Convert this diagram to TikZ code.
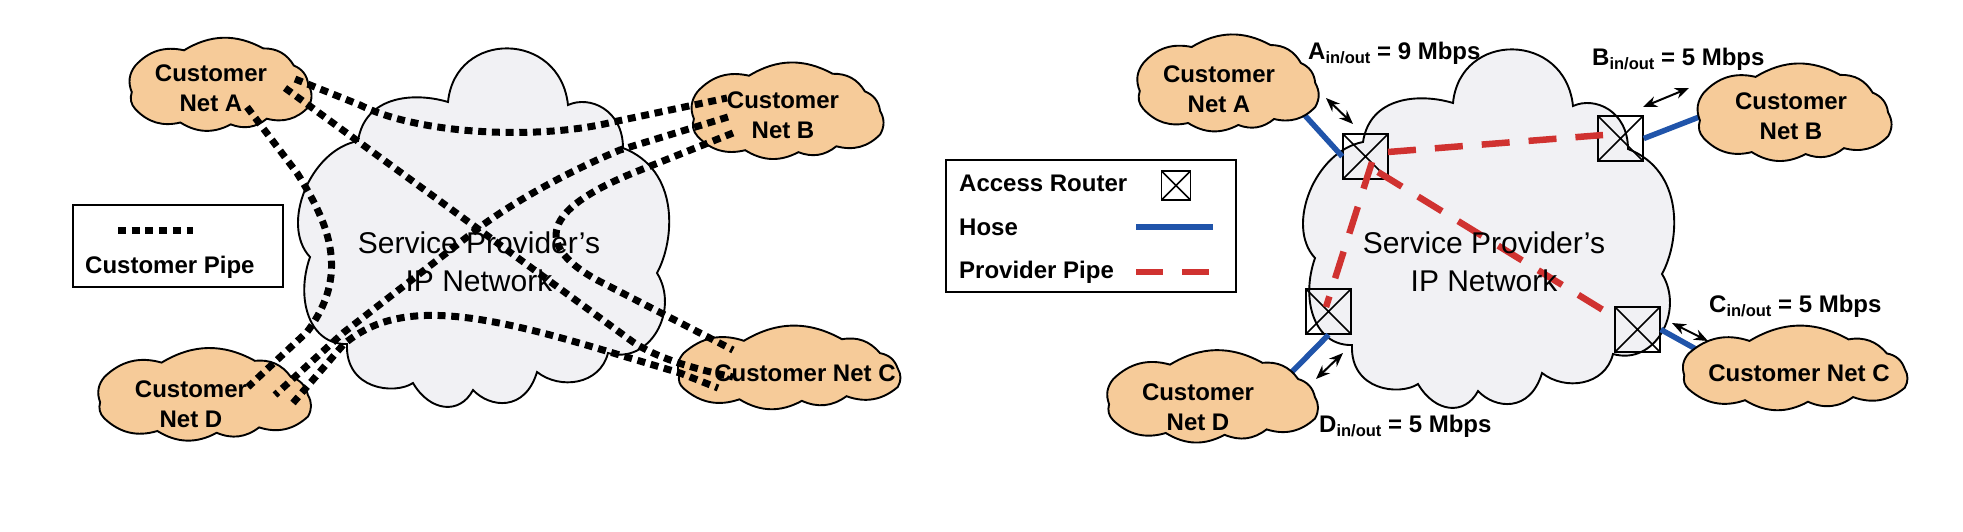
\documentclass[tikz,border=0pt]{standalone}
\usepackage{fontspec}
\setmainfont{Liberation Sans}
\usetikzlibrary{arrows.meta}
\definecolor{netfill}{RGB}{246,203,153}
\definecolor{corefill}{RGB}{241,241,244}
\definecolor{hoseblue}{RGB}{32,84,170}
\definecolor{pipered}{RGB}{208,50,48}
\newcommand{\boldlabel}{\fontsize{24}{29.5}\selectfont\bfseries}
\newcommand{\rate}[3]{\fontsize{24}{28}\selectfont\bfseries #1\raisebox{-4.5pt}{\fontsize{16.5}{18}\selectfont #2} = #3 Mbps}
% Large provider cloud, outlined from notch to notch
\newcommand{\corecloud}{%
  (448,102) .. controls (415,92) and (365,95) .. (358,141)
  .. controls (310,150) and (280,225) .. (310,257)
  .. controls (295,300) and (310,345) .. (347,344)
  .. controls (345,390) and (395,395) .. (413,383)
  .. controls (430,412) and (460,415) .. (473,390)
  .. controls (490,408) and (525,412) .. (537,372)
  .. controls (560,390) and (600,385) .. (608,353)
  .. controls (650,365) and (680,310) .. (657,273)
  .. controls (675,240) and (680,170) .. (623,148)
  .. controls (623,110) and (590,95) .. (568,105)
  .. controls (560,30) and (455,30) .. (448,102) -- cycle}
% Small customer cloud inside the box x,y,w,h
\newcommand{\netcloud}[4]{%
  \begin{scope}[shift={(#1,#2)},x=#3pt/100,y=-#4pt/100]
    \draw[netedge] (3,30) to (30,14) to (74,12) to (91,30) to (99,50)
      to (99,74) to (76,86) to (56,92) to (28,90) to (3,76)
      to (1,58) to (3,30) -- cycle;
  \end{scope}}
\tikzset{
  cloudedge/.style={draw=black,fill=corefill,line width=1.9pt},
  netedge/.style={draw=black,fill=netfill,line width=1.9pt,bend left=30},
  nettext/.style={font=\boldlabel,align=center,inner sep=0pt},
  coretext/.style={font=\fontsize{30}{38}\selectfont,align=center,inner sep=0pt},
  legendbox/.style={draw=black,line width=1.5pt,fill=white},
  legendtext/.style={font=\boldlabel,anchor=west,inner sep=0pt},
  ratetext/.style={anchor=base west,inner sep=0pt},
  custpipe/.style={draw=black,line width=7pt,dash pattern=on 8pt off 5.7pt},
  provpipe/.style={draw=pipered,line width=6.5pt,dash pattern=on 28pt off 19pt},
  hose/.style={draw=hoseblue,line width=5.5pt},
  rate arrow/.style={draw=black,line width=2pt,{Stealth[length=14pt,width=11pt]}-{Stealth[length=14pt,width=11pt]}},
  router/.style={draw=black,line width=1.5pt,minimum size=45pt,inner sep=0pt,
    path picture={\draw[line width=1.5pt]
      (path picture bounding box.north west) -- (path picture bounding box.south east)
      (path picture bounding box.north east) -- (path picture bounding box.south west);}},
}
\begin{document}
\begin{tikzpicture}[x=1pt,y=-1pt]
\useasboundingbox (0,0) rectangle (1963,531);

% ---- Customer pipes: full mesh over the provider network
\draw[cloudedge] \corecloud;
\netcloud{130}{37}{180}{95}
\netcloud{692}{62}{190}{98}
\netcloud{677}{330}{223}{77}
\netcloud{98}{350}{212}{90}

\node[coretext] (coreL) at (479,262) {Service Provider's\\IP Network};
\node[nettext] (custAL) at (211,88) {Customer\\Net A};
\node[nettext] (custBL) at (783,115) {Customer\\Net B};
\node[nettext] (custCL) at (805,373) {Customer Net C};
\node[nettext] (custDL) at (191,404) {Customer\\Net D};

\coordinate (a1) at (295,79);  \coordinate (a2) at (285,88);  \coordinate (a3) at (247,107);
\coordinate (b1) at (727,98);  \coordinate (b2) at (728,117); \coordinate (b3) at (733,133);
\coordinate (c1) at (733,350); \coordinate (c2) at (733,377); \coordinate (c3) at (718,388);
\coordinate (d1) at (248,387); \coordinate (d2) at (275,395); \coordinate (d3) at (293,403);

\draw[custpipe] (a1) -- (360,105) .. controls (420,135) and (540,140) .. (613,122) -- (b1);
\draw[custpipe] (a2) -- (633,342) .. controls (660,360) and (700,370) .. (c2);
\draw[custpipe] (a3) -- (297,173) .. controls (330,225) and (350,275) .. (307,332) -- (d1);
\draw[custpipe] (b3) -- (633,173) .. controls (555,205) and (525,240) .. (597,280) -- (c1);
\draw[custpipe] (b2) -- (620,150) .. controls (560,175) and (510,205) .. (480,227) -- (343,333) -- (d2);
\draw[custpipe] (d3) -- (343,345) .. controls (395,300) and (470,310) .. (603,350) -- (680,373) -- (c3);

\node[legendbox,minimum width=210pt,minimum height=82pt,inner sep=0pt] (legL) at (178,246) {};
\coordinate (lgL1) at (118,230); \coordinate (lgL2) at (193,230);
\draw[custpipe] (lgL1) -- (lgL2);
\node[legendtext] (lgLtext) at (85,267) {Customer Pipe};

% ---- Hose model: access routers at the network edge
\begin{scope}[shift={(1005,1)}]
  \draw[cloudedge] \corecloud;
\end{scope}

\node[router] (ra) at (1365.5,156.5) {};
\node[router] (rb) at (1620.5,138.5) {};
\node[router] (rc) at (1637.5,329.5) {};
\node[router] (rd) at (1328.5,311.5) {};

% Hoses run under the customer clouds, so their ends sit on the outlines
\coordinate (ha) at (1300,110);
\coordinate (hb) at (1712,112);
\coordinate (hc) at (1712,358);
\coordinate (hd) at (1283,381);
\draw[hose] (ha) -- (ra.west);
\draw[hose] (rb.east) -- (hb);
\draw[hose] (rc.east) -- (hc);
\draw[hose] (rd.south) -- (hd);

\netcloud{1138}{33}{179}{100}
\netcloud{1698}{63}{192}{99}
\netcloud{1682}{330}{225}{78}
\netcloud{1107}{352}{210}{90}

\coordinate (pab) at (1388,152);
\coordinate (pba) at (1603,135);
\coordinate (pac) at (1378,172);
\coordinate (pca) at (1603,310);
\coordinate (pad) at (1372,162);
\coordinate (pda) at (1326,307);
\draw[provpipe] (pab) -- (pba);
\draw[provpipe] (pac) -- (pca);
\draw[provpipe] (pad) -- (pda);

\node[coretext] (coreR) at (1484,262) {Service Provider's\\IP Network};
\node[nettext] (custAR) at (1219,89) {Customer\\Net A};
\node[nettext] (custBR) at (1791,116) {Customer\\Net B};
\node[nettext] (custCR) at (1799,373) {Customer Net C};
\node[nettext] (custDR) at (1198,407) {Customer\\Net D};

\coordinate (ra1) at (1326,98);  \coordinate (ra2) at (1353,124);
\coordinate (rb1) at (1643,107); \coordinate (rb2) at (1689,88);
\coordinate (rc1) at (1672,323); \coordinate (rc2) at (1708,341);
\coordinate (rd1) at (1343,353); \coordinate (rd2) at (1316,379);
\draw[rate arrow] (ra1) -- (ra2);
\draw[rate arrow] (rb1) -- (rb2);
\draw[rate arrow] (rc1) -- (rc2);
\draw[rate arrow] (rd1) -- (rd2);

\node[ratetext] (rateA) at (1308,59) {\rate{A}{in/out}{9}};
\node[ratetext] (rateB) at (1592,65) {\rate{B}{in/out}{5}};
\node[ratetext] (rateC) at (1709,312) {\rate{C}{in/out}{5}};
\node[ratetext] (rateD) at (1319,432) {\rate{D}{in/out}{5}};

\node[legendbox,minimum width=290pt,minimum height=132pt,inner sep=0pt] (legR) at (1091,226) {};
\node[legendtext] (lgRouter) at (959,183) {Access Router};
\node[legendtext] (lgHose) at (959,227) {Hose};
\node[legendtext] (lgPipe) at (959,272) {Provider Pipe};
\node[router,minimum size=29pt] (lgBox) at (1176,185.5) {};
\coordinate (lgH1) at (1136,227); \coordinate (lgH2) at (1213,227);
\coordinate (lgP1) at (1136,272); \coordinate (lgP2) at (1209,272);
\draw[hose] (lgH1) -- (lgH2);
\draw[provpipe,dash pattern=on 27pt off 19pt] (lgP1) -- (lgP2);
\end{tikzpicture}
\end{document}
